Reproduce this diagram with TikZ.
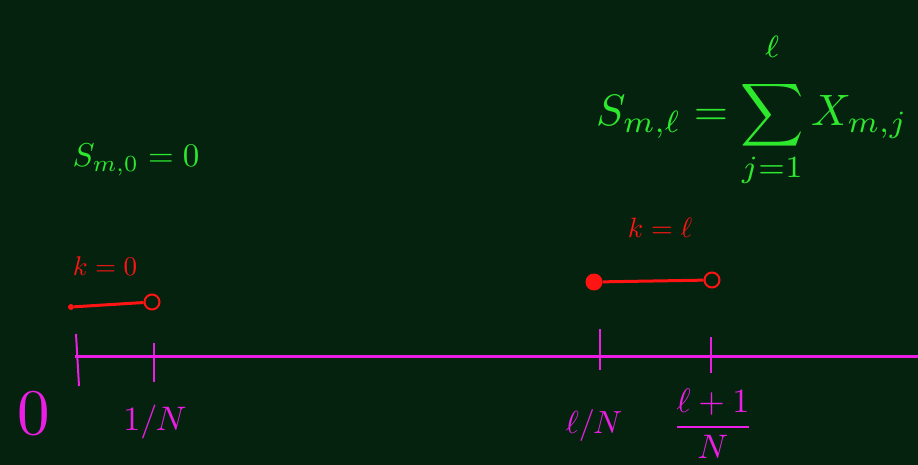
\documentclass[tikz,border=0pt]{standalone}
\usepackage{amsmath}
\usepackage{graphicx}
\begin{document}
\begin{tikzpicture}[x=1pt,y=-1pt]
\definecolor{bg}{HTML}{05220F}
\definecolor{chalkgreen}{HTML}{2EE82E}
\definecolor{chalkred}{HTML}{FF1414}
\definecolor{chalkmag}{HTML}{EC1EE6}
\tikzset{
  axisline/.style={chalkmag, line width=3pt},
  tickmark/.style={chalkmag, line width=2pt},
  seg/.style={chalkred, line width=3pt},
  opendot/.style={circle, draw=chalkred, line width=2pt, minimum size=15pt, inner sep=0pt},
  greentext/.style={text=chalkgreen, inner sep=0pt},
  redtext/.style={text=chalkred, inner sep=0pt},
  magtext/.style={text=chalkmag, inner sep=0pt}
}
\fill[bg] (0,0) rectangle (918,465);
\useasboundingbox (0,0) rectangle (918,465);

% axis
\coordinate (axL) at (75,356);
\coordinate (axR) at (918,356);
\draw[axisline] (axL) -- (axR);
\coordinate (t0a) at (76,334); \coordinate (t0b) at (79,386);
\coordinate (t1a) at (154,343); \coordinate (t1b) at (154,382);
\coordinate (t2a) at (600,329); \coordinate (t2b) at (600,370);
\coordinate (t3a) at (711,337); \coordinate (t3b) at (711,373);
\draw[tickmark] (t0a) -- (t0b);
\draw[tickmark] (t1a) -- (t1b);
\draw[tickmark] (t2a) -- (t2b);
\draw[tickmark] (t3a) -- (t3b);

% axis labels
\node[magtext] (l0) at (34,414) {\scalebox{6.5}{$0$}};
\node[magtext] (l1) at (155,422) {\scalebox{3.4}{$1/N$}};
\node[magtext] (l2) at (594,425) {\scalebox{3.2}{$\ell/N$}};
\node[magtext] (l3) at (713,424) {\scalebox{3.4}{$\dfrac{\ell+1}{N}$}};

% red segments
\node[circle, fill=chalkred, minimum size=6pt, inner sep=0pt] (a0) at (71,307) {};
\node[opendot] (b0) at (152,302) {};
\draw[seg] (a0) -- (b0);
\node[circle, fill=chalkred, minimum size=17pt, inner sep=0pt] (a1) at (594,282) {};
\node[opendot] (b1) at (712,280) {};
\draw[seg] (a1) -- (b1);

\node[redtext] (k0) at (105,266) {\scalebox{2.7}{$k=0$}};
\node[redtext] (k1) at (660,228) {\scalebox{2.8}{$k=\ell$}};

% green formulas
\node[greentext] (s0) at (136,160) {\scalebox{3.3}{$S_{m,0}=0$}};
\node[greentext] (s1) at (752,110) {\scalebox{4.4}{$\displaystyle S_{m,\ell}=\sum_{j=1}^{\raisebox{3pt}{$\scriptstyle\ell$}} X_{m,j}$}};
\end{tikzpicture}
\end{document}
